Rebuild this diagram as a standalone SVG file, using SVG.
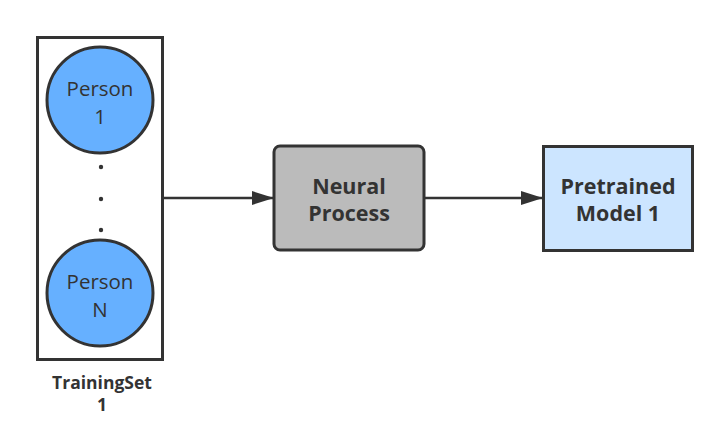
<svg xmlns="http://www.w3.org/2000/svg" width="723" height="424" viewBox="0 0 723 424">
<defs>
<style>
.sh{stroke:#333;stroke-width:3}
.t{font-family:"Open Sans","Noto Sans",sans-serif;fill:#333;text-anchor:middle}
.r{font-size:20.5px}
.b{font-size:21.5px;font-weight:bold}
.s{font-size:17.5px;font-weight:bold}
.ln{stroke:#333;stroke-width:2.5;fill:none}
</style>
<marker id="ah" markerWidth="22" markerHeight="14" refX="21" refY="7" orient="auto" markerUnits="userSpaceOnUse">
<path d="M0,0 L22,7 L0,14 Z" fill="#333"/>
</marker>
</defs>
<rect width="723" height="424" fill="#fff"/>
<g id="trainingset">
<rect x="37.5" y="37.5" width="125" height="322" fill="#fff" class="sh"/>
<text class="t s"><tspan x="102" y="389">TrainingSet</tspan><tspan x="102" y="411">1</tspan></text>
</g>
<g id="person1">
<circle cx="100" cy="100" r="53" fill="#66b0ff" class="sh"/>
<text class="t r"><tspan x="100" y="96">Person</tspan><tspan x="100" y="124">1</tspan></text>
</g>
<g id="dots">
<circle cx="101" cy="167" r="2.2" fill="#333"/>
<circle cx="101" cy="199" r="2.2" fill="#333"/>
<circle cx="101" cy="230" r="2.2" fill="#333"/>
</g>
<g id="personN">
<circle cx="100" cy="293" r="53" fill="#66b0ff" class="sh"/>
<text class="t r"><tspan x="100" y="289">Person</tspan><tspan x="100" y="317">N</tspan></text>
</g>
<g id="neural">
<rect x="274" y="146" width="150" height="104" rx="6" fill="#bbbbbb" class="sh"/>
<text class="t b"><tspan x="349" y="194">Neural</tspan><tspan x="349" y="221">Process</tspan></text>
</g>
<g id="pretrained">
<rect x="543.5" y="146.5" width="149" height="104" fill="#cce5ff" class="sh"/>
<text class="t b"><tspan x="618" y="194">Pretrained</tspan><tspan x="618" y="221">Model 1</tspan></text>
</g>
<g id="connectors">
<line x1="164" y1="198" x2="273" y2="198" class="ln" marker-end="url(#ah)"/>
<line x1="425" y1="198" x2="542" y2="198" class="ln" marker-end="url(#ah)"/>
</g>
</svg>
